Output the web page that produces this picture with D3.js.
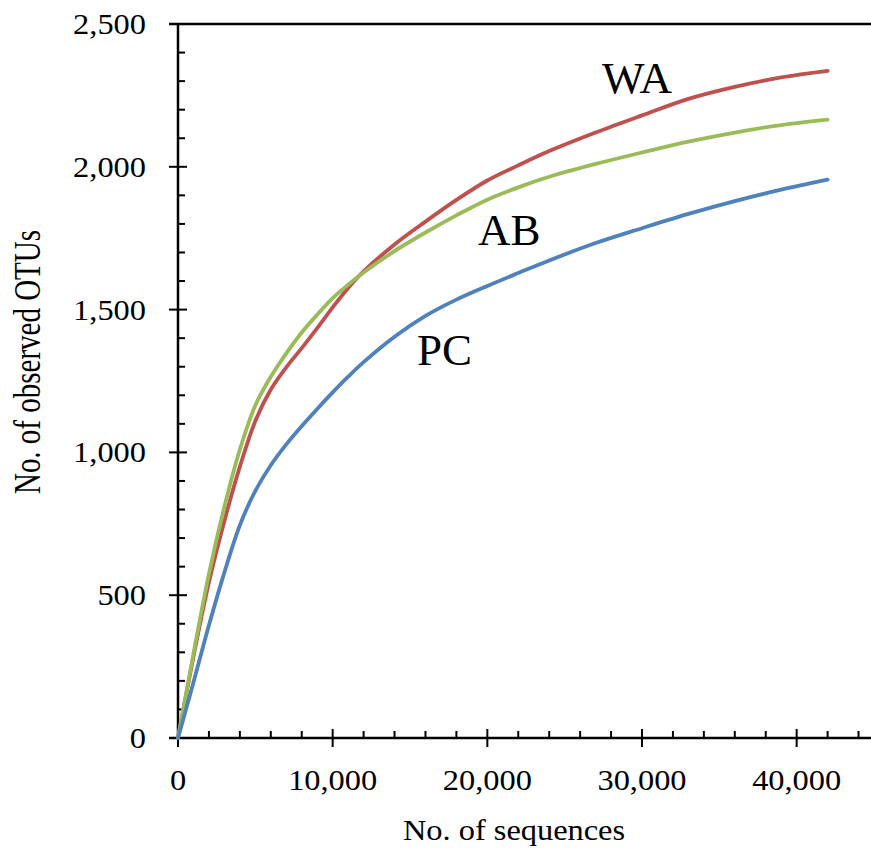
<!DOCTYPE html>
<html>
<head>
<meta charset="utf-8">
<script src="https://cdn.jsdelivr.net/npm/d3@7"></script>
<style>
  html, body { margin: 0; padding: 0; background: #fff; }
  svg { display: block; }
  text { font-family: "Liberation Serif", "Times New Roman", serif; fill: #000; }
</style>
</head>
<body>
<svg id="chart" width="871" height="850"></svg>
<script>
// ---- data ----
const sequences = [0, 1000, 2000, 3000, 4000, 5000, 6000, 7000, 8000, 9000, 10000, 11000, 12000, 14000, 16000, 18000, 20000, 22000, 24000, 27000, 30000, 33000, 36000, 39000, 42000];
const waOTUs = [0, 285, 545, 760, 950, 1110, 1220, 1298, 1365, 1435, 1508, 1576, 1634, 1728, 1808, 1884, 1952, 2005, 2055, 2120, 2180, 2238, 2280, 2313, 2336];
const abOTUs = [0, 295, 575, 810, 1010, 1165, 1265, 1347, 1420, 1482, 1540, 1587, 1630, 1705, 1770, 1830, 1885, 1928, 1965, 2010, 2050, 2088, 2120, 2146, 2165];
const pcOTUs = [0, 195, 395, 580, 745, 865, 955, 1028, 1092, 1152, 1210, 1265, 1316, 1405, 1478, 1535, 1583, 1628, 1672, 1733, 1785, 1835, 1880, 1920, 1955];
const seriesNames = ["WA", "AB", "PC"];
const seriesColors = ["#C0504D", "#9BBB59", "#4F81BD"];
const xTickValues = [0, 10000, 20000, 30000, 40000];
const yTickValues = [0, 500, 1000, 1500, 2000, 2500];
const xTitle = "No. of sequences";
const yTitle = "No. of observed OTUs";

const seriesValues = [waOTUs, abOTUs, pcOTUs];

// ---- layout ----
const svg = d3.select("#chart");
const x = d3.scaleLinear().domain([0, 45000]).range([178, 874]);
const y = d3.scaleLinear().domain([0, 2500]).range([738, 24]);
const fmt = d3.format(",");
const stretch = 1.08;

const g = svg.append("g");

// minor ticks
const xMinor = d3.range(0, 45001, 2000).filter(v => v % 10000 !== 0);
const yMinor = d3.range(0, 2501, 100).filter(v => v % 500 !== 0);
g.selectAll(".xminor").data(xMinor).enter().append("line")
  .attr("x1", d => x(d)).attr("x2", d => x(d))
  .attr("y1", y(0)).attr("y2", y(0) - 7)
  .attr("stroke", "#000").attr("stroke-width", 2);
g.selectAll(".yminor").data(yMinor).enter().append("line")
  .attr("x1", x(0)).attr("x2", x(0) + 7)
  .attr("y1", d => y(d)).attr("y2", d => y(d))
  .attr("stroke", "#000").attr("stroke-width", 2);

// major ticks
g.selectAll(".xmajor").data(xTickValues).enter().append("line")
  .attr("x1", d => x(d)).attr("x2", d => x(d))
  .attr("y1", y(0) - 9).attr("y2", y(0) + 9)
  .attr("stroke", "#000").attr("stroke-width", 2);
g.selectAll(".ymajor").data(yTickValues).enter().append("line")
  .attr("x1", x(0) - 9).attr("x2", x(0) + 9)
  .attr("y1", d => y(d)).attr("y2", d => y(d))
  .attr("stroke", "#000").attr("stroke-width", 2);

// axis lines + top border
g.append("line").attr("x1", x(0)).attr("x2", x(0)).attr("y1", y(2500) - 1).attr("y2", y(0) + 1)
  .attr("stroke", "#000").attr("stroke-width", 2.5);
g.append("line").attr("x1", x(0) - 9).attr("x2", 871).attr("y1", y(0)).attr("y2", y(0))
  .attr("stroke", "#000").attr("stroke-width", 2.5);
g.append("line").attr("x1", x(0) - 9).attr("x2", 871).attr("y1", y(2500)).attr("y2", y(2500))
  .attr("stroke", "#000").attr("stroke-width", 2.5);

// tick labels
g.selectAll(".xlab").data(xTickValues).enter().append("text")
  .attr("transform", d => `translate(${x(d)},790) scale(${stretch},1)`)
  .attr("text-anchor", "middle").attr("font-size", 30)
  .text(d => fmt(d));
g.selectAll(".ylab").data(yTickValues).enter().append("text")
  .attr("transform", d => `translate(146,${y(d) + 10}) scale(${stretch},1)`)
  .attr("text-anchor", "end").attr("font-size", 30)
  .text(d => fmt(d));

// axis titles
svg.append("text").attr("transform", `translate(514,840) scale(${stretch},1)`)
  .attr("text-anchor", "middle").attr("font-size", 30).text(xTitle);
svg.append("text").attr("transform", "translate(40,362) scale(1.3,1) rotate(-90)")
  .attr("text-anchor", "middle").attr("font-size", 29).text(yTitle);

// lines
const line = d3.line().curve(d3.curveCatmullRom.alpha(0.5))
  .x(d => x(d[0])).y(d => y(d[1]));
seriesValues.forEach((vals, i) => {
  const pts = sequences.map((s, j) => [s, vals[j]]);
  svg.append("path").datum(pts)
    .attr("d", line)
    .attr("fill", "none")
    .attr("stroke", seriesColors[i])
    .attr("stroke-width", 3.8)
    .attr("stroke-linecap", "round")
    .attr("stroke-linejoin", "round");
});

// series labels
const labelPos = [[602, 93], [478, 245], [417, 365]];
seriesNames.forEach((n, i) => {
  svg.append("text").attr("x", labelPos[i][0]).attr("y", labelPos[i][1])
    .attr("font-size", 45).text(n);
});
</script>
</body>
</html>
